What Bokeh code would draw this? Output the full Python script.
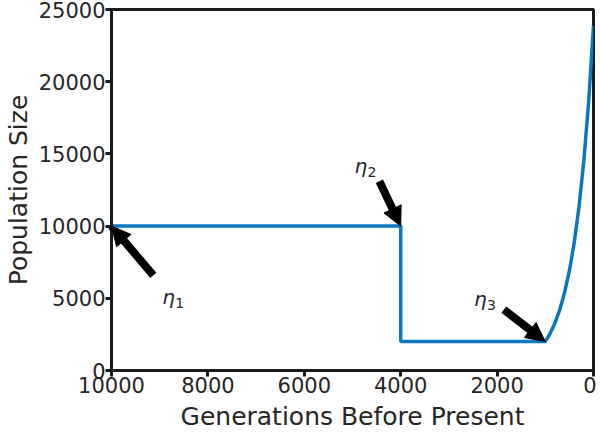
from bokeh.plotting import figure
from bokeh.models import Range1d, FixedTicker, Arrow, NormalHead, Label
from bokeh.embed import file_html
from bokeh.resources import INLINE

# Data
generations = [10000, 4000, 4000, 1000, 900, 800, 700, 600, 500, 400, 300, 200, 100, 0]
population = [10000, 10000, 2000, 2000, 2563, 3284, 4209, 5393, 6911, 8856, 11350, 14544, 18637, 23883]

x_ticks = [0, 2000, 4000, 6000, 8000, 10000]
y_ticks = [0, 5000, 10000, 15000, 20000, 25000]

# annotations
eta_labels = ["1", "2", "3"]
eta_label_x = [8946, 4959, 2479]
eta_label_y = [5095, 14130, 4959]
arrow_tail_x = [9132, 4442, 1860]
arrow_tail_y = [6590, 13111, 4212]
arrow_tip_x = [10000, 4000, 1000]
arrow_tip_y = [10000, 10000, 2000]

TEXT = "#262626"
FRAME = "#1a1a1a"
BLUE = "#0a78bf"

p = figure(width=596, height=433, output_backend="svg", toolbar_location=None,
           x_range=Range1d(10000, 0), y_range=Range1d(0, 25000),
           min_border_left=111, min_border_right=3, min_border_top=9, min_border_bottom=0)

p.xgrid.visible = False
p.ygrid.visible = False
p.outline_line_color = FRAME
p.outline_line_width = 3
p.background_fill_color = "white"
p.border_fill_color = "white"

p.line(generations, population, line_color=BLUE, line_width=3.5)

for ax, ticks in ((p.xaxis[0], x_ticks), (p.yaxis[0], y_ticks)):
    ax.ticker = FixedTicker(ticks=ticks)
    ax.minor_tick_line_color = None
    ax.major_tick_in = 0
    ax.major_tick_out = 6
    ax.major_tick_line_width = 3
    ax.major_tick_line_color = FRAME
    ax.axis_line_color = FRAME
    ax.axis_line_width = 3
    ax.major_label_text_font = "DejaVu Sans"
    ax.major_label_text_font_size = "21px"
    ax.major_label_text_color = TEXT
    ax.major_label_standoff = 0
    ax.axis_label_text_font = "DejaVu Sans"
    ax.axis_label_text_font_size = "25px"
    ax.axis_label_text_font_style = "normal"
    ax.axis_label_text_color = TEXT

p.xaxis.axis_label_standoff = 6
p.yaxis.axis_label_standoff = 3
p.xaxis.axis_label = "Generations Before Present"
p.yaxis.axis_label = "Population Size"

for i in range(3):
    p.add_layout(Arrow(end=NormalHead(size=19, fill_color="black", line_color="black", line_width=1),
                       x_start=arrow_tail_x[i], y_start=arrow_tail_y[i],
                       x_end=arrow_tip_x[i], y_end=arrow_tip_y[i],
                       line_color="black", line_width=8))
    p.add_layout(Label(x=eta_label_x[i], y=eta_label_y[i], text="η",
                       text_font="DejaVu Sans", text_font_style="italic",
                       text_font_size="20px", text_color=TEXT,
                       text_baseline="alphabetic", text_align="left"))
    p.add_layout(Label(x=eta_label_x[i], y=eta_label_y[i], x_offset=13, y_offset=-6,
                       text=eta_labels[i], text_font="DejaVu Sans",
                       text_font_size="14px", text_color=TEXT,
                       text_baseline="alphabetic", text_align="left"))

open("out.html", "w").write(file_html(p, INLINE))
